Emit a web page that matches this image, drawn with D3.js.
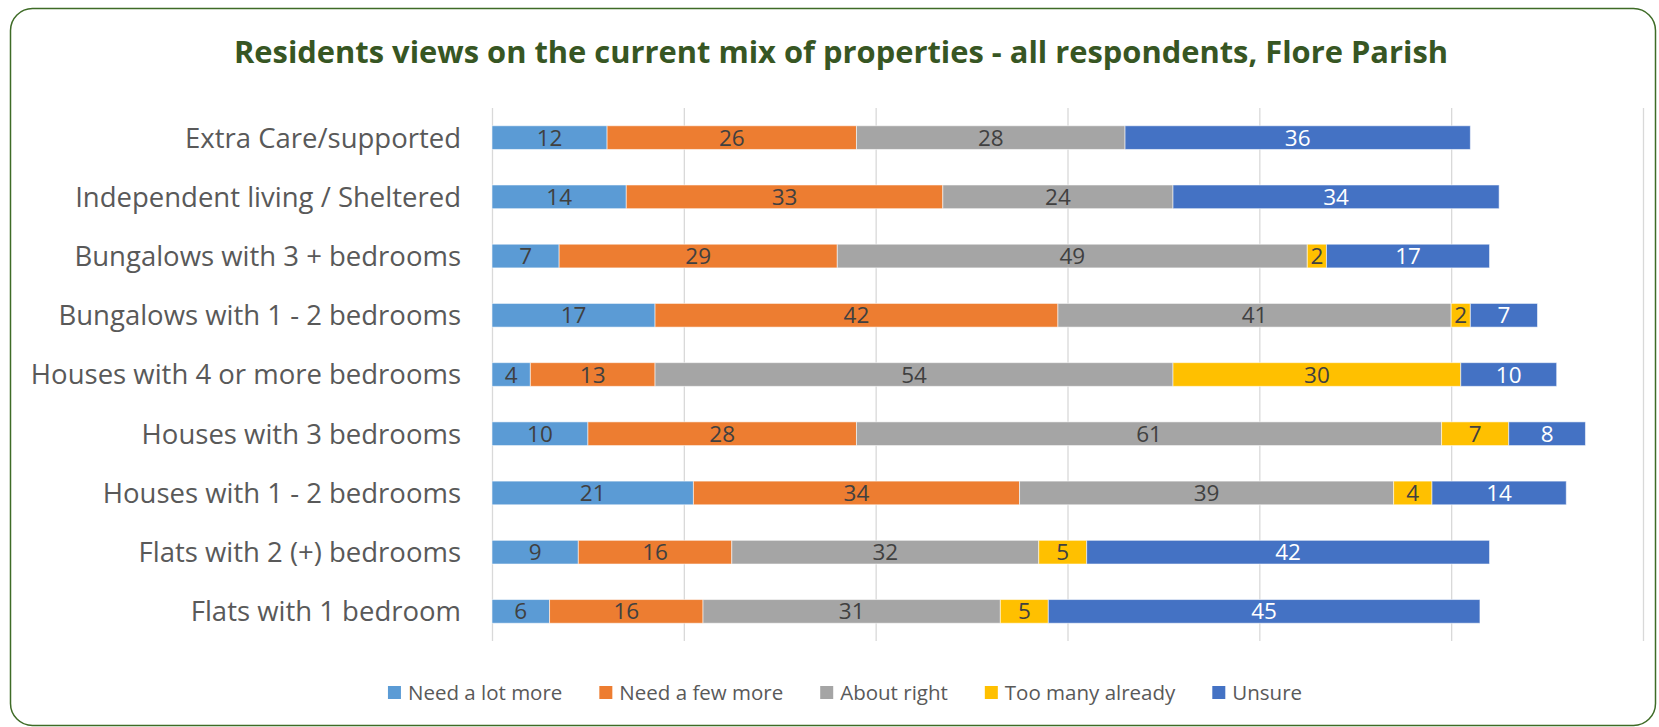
<!DOCTYPE html>
<html>
<head>
<meta charset="utf-8">
<script src="https://cdn.jsdelivr.net/npm/d3@7"></script>
<style>
  body { margin: 0; background: #ffffff; }
  svg { display: block; }
</style>
</head>
<body>
<svg id="chart" width="1659" height="727"></svg>
<script>
// Survey categories, top to bottom
const categories = [
  "Extra Care/supported",
  "Independent living / Sheltered",
  "Bungalows with 3 + bedrooms",
  "Bungalows with 1 - 2 bedrooms",
  "Houses with 4 or more bedrooms",
  "Houses with 3 bedrooms",
  "Houses with 1 - 2 bedrooms",
  "Flats with 2 (+) bedrooms",
  "Flats with 1 bedroom"
];

// Response options (stack order, left to right)
const seriesNames = ["Need a lot more", "Need a few more", "About right", "Too many already", "Unsure"];

// Respondent counts per category
const needALotMore   = [12, 14,  7, 17,  4, 10, 21,  9,  6];
const needAFewMore   = [26, 33, 29, 42, 13, 28, 34, 16, 16];
const aboutRight     = [28, 24, 49, 41, 54, 61, 39, 32, 31];
const tooManyAlready = [ 0,  0,  2,  2, 30,  7,  4,  5,  5];
const unsure         = [36, 34, 17,  7, 10,  8, 14, 42, 45];

// Value axis gridline positions
const xTicks = [0, 20, 40, 60, 80, 100, 120];

const seriesValues = [needALotMore, needAFewMore, aboutRight, tooManyAlready, unsure];
const colors = ["#5B9BD5", "#ED7D31", "#A5A5A5", "#FFC000", "#4472C4"];
const labelColors = ["#404040", "#404040", "#404040", "#404040", "#ffffff"];

const rows = categories.map((c, i) => {
  const r = { category: c };
  seriesNames.forEach((s, k) => { r[s] = seriesValues[k][i]; });
  return r;
});

const stacked = d3.stack().keys(seriesNames)(rows);

const svg = d3.select("#chart");
const FONT = "'Open Sans', 'Noto Sans', sans-serif";

// Outer rounded frame
svg.append("rect")
  .attr("x", 10.5).attr("y", 8.5)
  .attr("width", 1645).attr("height", 717)
  .attr("rx", 22).attr("ry", 22)
  .attr("fill", "#ffffff")
  .attr("stroke", "#3E6B26")
  .attr("stroke-width", 1.5);

// Title
svg.append("text")
  .attr("x", 841).attr("y", 63)
  .attr("text-anchor", "middle")
  .attr("font-family", FONT)
  .attr("font-weight", 700)
  .attr("font-size", 31)
  .attr("fill", "#375623")
  .attr("textLength", 1214)
  .attr("lengthAdjust", "spacingAndGlyphs")
  .text("Residents views on the current mix of properties - all respondents, Flore Parish");

const x = d3.scaleLinear().domain([0, 120]).range([492, 1643]);
const y = d3.scaleBand().domain(categories).range([108, 641]).paddingInner(0.6).paddingOuter(0.3);

// Vertical gridlines
const grid = d3.axisBottom(x).tickValues(xTicks).tickSize(-(641 - 108)).tickFormat("");
const gridG = svg.append("g").attr("transform", "translate(0,641)").call(grid);
gridG.select(".domain").remove();
gridG.selectAll(".tick line").attr("stroke", "#D9D9D9").attr("stroke-width", 1.3);

// Category axis labels
const yAxis = d3.axisLeft(y).tickSize(0).tickPadding(0);
const yG = svg.append("g").attr("transform", "translate(461,0)").call(yAxis);
yG.select(".domain").remove();
yG.selectAll(".tick text")
  .attr("font-family", FONT)
  .attr("font-size", 27.5)
  .attr("fill", "#595959")
  .attr("dy", "0.36em");

// Stacked bars
const layers = svg.append("g").selectAll("g")
  .data(stacked)
  .join("g")
  .attr("fill", (d, i) => colors[i]);

layers.selectAll("rect")
  .data(d => d.filter(p => p[1] - p[0] > 0).map(p => ({ p, cat: p.data.category })))
  .join("rect")
  .attr("x", d => x(d.p[0]))
  .attr("y", d => y(d.cat))
  .attr("width", d => x(d.p[1]) - x(d.p[0]))
  .attr("height", y.bandwidth())
  .attr("stroke", "rgba(255,255,255,0.55)")
  .attr("stroke-width", 1);

// Data labels centred in each segment
stacked.forEach((layer, i) => {
  svg.append("g").selectAll("text")
    .data(layer.filter(p => p[1] - p[0] > 0))
    .join("text")
    .attr("x", p => x((p[0] + p[1]) / 2))
    .attr("y", p => y(p.data.category) + y.bandwidth() / 2)
    .attr("dy", "0.36em")
    .attr("text-anchor", "middle")
    .attr("font-family", FONT)
    .attr("font-size", 22.5)
    .attr("fill", labelColors[i])
    .text(p => p[1] - p[0]);
});

// Legend, centred under the plot
const legend = svg.append("g");
const items = legend.selectAll("g").data(seriesNames).join("g");
items.append("rect")
  .attr("width", 13).attr("height", 13)
  .attr("y", 686)
  .attr("fill", (d, i) => colors[i]);
items.append("text")
  .attr("x", 20).attr("y", 700)
  .attr("font-family", FONT)
  .attr("font-size", 20.5)
  .attr("fill", "#595959")
  .text(d => d);

let widths = [];
items.each(function () { widths.push(this.querySelector("text").getComputedTextLength() + 20); });
const gap = 37;
const total = d3.sum(widths) + gap * (widths.length - 1);
let cursor = 845 - total / 2;
items.each(function (d, i) {
  d3.select(this).attr("transform", `translate(${cursor},0)`);
  cursor += widths[i] + gap;
});
</script>
</body>
</html>
